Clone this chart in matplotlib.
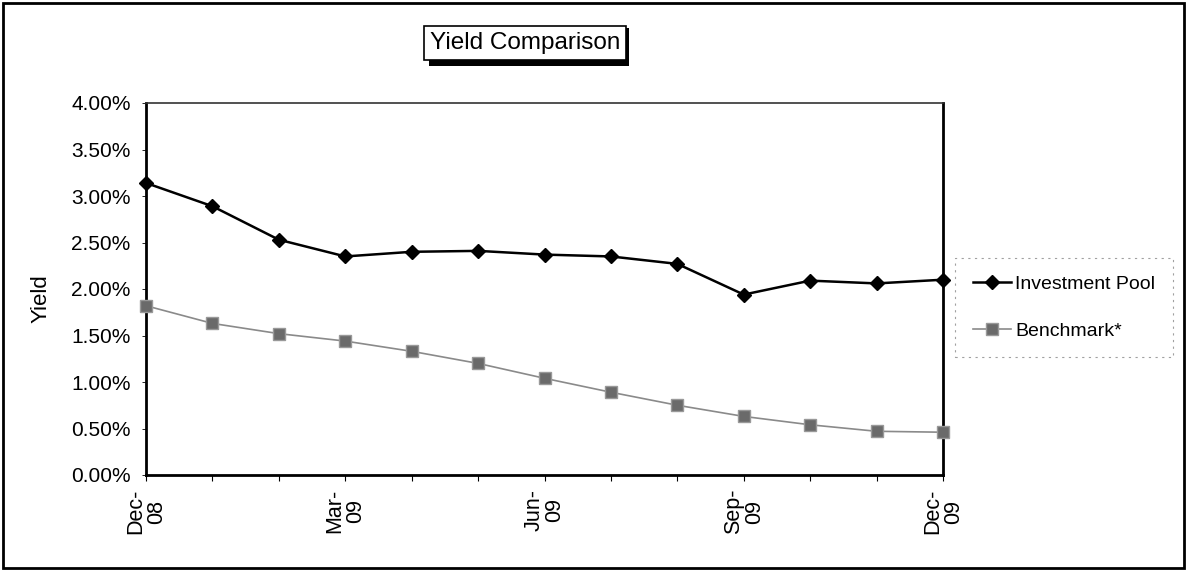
import matplotlib
matplotlib.use("Agg")
import matplotlib.pyplot as plt
from matplotlib.patches import Rectangle
from matplotlib.ticker import FuncFormatter

months = ["Dec-\n08", "Jan-\n09", "Feb-\n09", "Mar-\n09", "Apr-\n09", "May-\n09", "Jun-\n09",
          "Jul-\n09", "Aug-\n09", "Sep-\n09", "Oct-\n09", "Nov-\n09", "Dec-\n09"]
pool = [3.14, 2.89, 2.53, 2.35, 2.40, 2.41, 2.37, 2.35, 2.27, 1.94, 2.09, 2.06, 2.10]
benchmark = [1.82, 1.63, 1.52, 1.44, 1.33, 1.20, 1.04, 0.89, 0.75, 0.63, 0.54, 0.47, 0.46]
y_ticks = [0.0, 0.5, 1.0, 1.5, 2.0, 2.5, 3.0, 3.5, 4.0]

plt.rcParams["font.family"] = ["Liberation Sans", "DejaVu Sans"]

fig = plt.figure(figsize=(11.88, 5.71), dpi=100)
ax = fig.add_axes([146 / 1188, 1 - 475 / 571, (943 - 146) / 1188, (475 - 103) / 571])

x = list(range(len(months)))
ax.plot(x, pool, color="black", linewidth=1.8, marker="D", markersize=7,
        label="Investment Pool", zorder=4, clip_on=False)
ax.plot(x, benchmark, color="#8a8a8a", linewidth=1.2, marker="s", markersize=8,
        markerfacecolor="#6a6a6a", markeredgecolor="#999999", label="Benchmark*",
        zorder=3, clip_on=False)

ax.set_xlim(0, len(months) - 1)
ax.set_ylim(0, 4.0)
ax.set_yticks(y_ticks)
ax.yaxis.set_major_formatter(FuncFormatter(lambda v, p: f"{v:.2f}%"))
ax.set_xticks(x)
ax.set_xticklabels([m if i % 3 == 0 else "" for i, m in enumerate(months)],
                   rotation=90, fontsize=15.5, linespacing=1.0)
ax.tick_params(axis="x", direction="out", length=4, width=0.8, pad=6)
ax.tick_params(axis="y", direction="out", length=3, width=0.6, labelsize=15, pad=8)
ax.set_ylabel("Yield", fontsize=16)
ax.yaxis.set_label_coords(-0.118, 0.473)

for side in ["left", "right", "bottom"]:
    ax.spines[side].set_linewidth(2.0)
    ax.spines[side].set_color("black")
ax.spines["top"].set_linewidth(1.2)
ax.spines["top"].set_color("#333333")

leg = fig.legend(loc="upper left", bbox_to_anchor=(955 / 1188, 1 - 258 / 571),
                 fontsize=14, frameon=True, fancybox=False, handlelength=2.0,
                 labelspacing=1.5, borderpad=0.9, handletextpad=0.2, borderaxespad=0)
leg.get_frame().set_edgecolor("#888888")
leg.get_frame().set_linestyle((0, (2, 4)))
leg.get_frame().set_linewidth(0.8)

fig.text(525 / 1188, 1 - 43 / 571, "Yield Comparison", fontsize=17.5, ha="center", va="center",
         bbox=dict(boxstyle="square,pad=0.25", facecolor="white", edgecolor="black", linewidth=1.2))
fig.patches.append(Rectangle((429 / 1188, 1 - 66 / 571), 200 / 1188, 38 / 571,
                             transform=fig.transFigure, facecolor="black", zorder=-1))

fig.patches.append(Rectangle((3 / 1188, 3 / 571), 1181 / 1188, 565 / 571, transform=fig.transFigure,
                             fill=False, edgecolor="black", linewidth=2.0))

fig.savefig("out.png", dpi=100)
